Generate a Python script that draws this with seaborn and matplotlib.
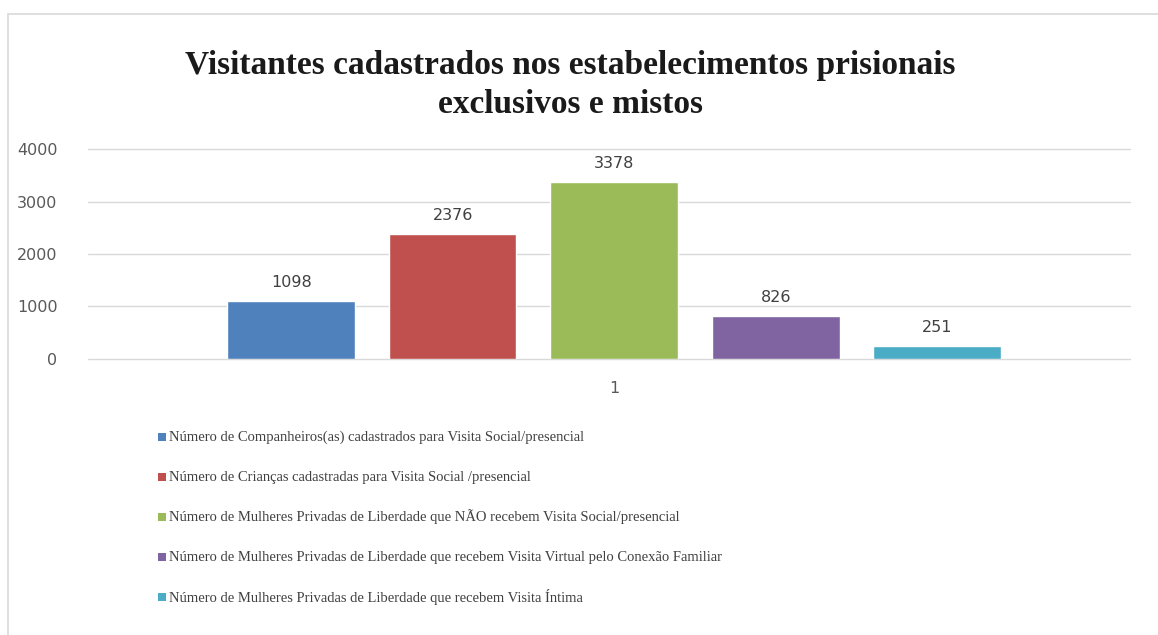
import numpy as np
import pandas as pd
import matplotlib
matplotlib.use("Agg")
import matplotlib.pyplot as plt
from matplotlib.patches import Rectangle
import seaborn as sns

# dados
series = [
    "Número de Companheiros(as) cadastrados para Visita Social/presencial",
    "Número de Crianças cadastradas para Visita Social /presencial",
    "Número de Mulheres Privadas de Liberdade que NÃO recebem Visita Social/presencial",
    "Número de Mulheres Privadas de Liberdade que recebem Visita Virtual pelo Conexão Familiar",
    "Número de Mulheres Privadas de Liberdade que recebem Visita Íntima",
]
values = [1098, 2376, 3378, 826, 251]
category = ["1"] * 5
colors = ["#4F81BD", "#C0504D", "#9BBB59", "#8064A2", "#4BACC6"]

df = pd.DataFrame({"cat": category, "serie": series, "valor": values})

sns.set_style("white")
plt.rcParams["font.family"] = ["Liberation Serif", "DejaVu Serif"]

fig = plt.figure(figsize=(11.58, 6.35), dpi=100)
W, H = 1158, 635
ax = fig.add_axes([88 / W, 1 - 359 / H, (1130 - 88) / W, (359 - 149) / H])

sns.barplot(data=df, x="cat", y="valor", hue="serie", palette=colors,
            width=0.775, gap=0.21, ax=ax, legend=False, saturation=1)

ax.set_ylim(0, 4000)
ax.set_xlim(-0.505, 0.495)
ax.set_yticks([0, 1000, 2000, 3000, 4000])
ax.yaxis.grid(True, color="#D9D9D9", linewidth=1)
for gl in ax.yaxis.get_gridlines():
    gl.set_clip_on(False)
ax.set_axisbelow(True)
for s in ax.spines.values():
    s.set_visible(False)
ax.set_xlabel("")
ax.set_ylabel("")
ax.tick_params(axis="both", length=0, labelsize=11.5, labelcolor="#595959")
ax.tick_params(axis="y", pad=22)
ax.tick_params(axis="x", pad=16)
for lbl in ax.get_yticklabels() + ax.get_xticklabels():
    lbl.set_family(["DejaVu Sans"])

# rótulos de dados
for cont in ax.containers:
    ax.bar_label(cont, padding=8, fontsize=11.5, color="#404040", family=["DejaVu Sans"])

# título
fig.text(570 / W, 1 - 85 / H,
         "Visitantes cadastrados nos estabelecimentos prisionais\nexclusivos e mistos",
         ha="center", va="center", fontsize=24, fontweight="bold",
         color="#1a1a1a", linespacing=1.32)

# legenda manual
for i, (s, c) in enumerate(zip(series, colors)):
    y = 1 - (437 + 40 * i) / H
    fig.patches.append(Rectangle((158 / W, y - 4 / H), 8 / W, 8 / H,
                                 transform=fig.transFigure, facecolor=c,
                                 edgecolor="none"))
    fig.text(169 / W, y, s, ha="left", va="center", fontsize=10.5, color="#404040")

# moldura
fig.patches.append(Rectangle((8 / W, -0.05), 1.1, 1 - 14 / H + 0.05,
                             transform=fig.transFigure, facecolor="none",
                             edgecolor="#D9D9D9", linewidth=1.2))

fig.savefig("out.png", dpi=100)
